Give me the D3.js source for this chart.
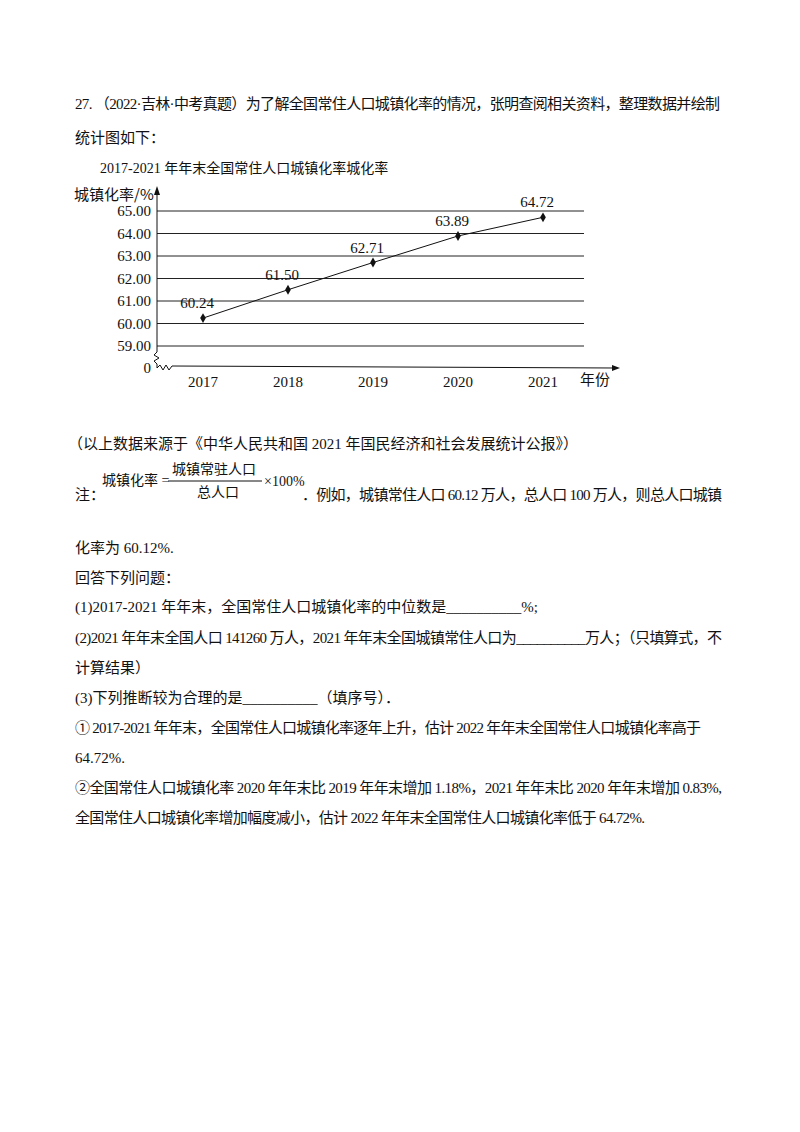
<!DOCTYPE html>
<html>
<head>
  <meta charset="utf-8">
  <script src="https://d3js.org/d3.v7.min.js"></script>
  <style>
    body { margin: 0; background: #fff; }
    svg text { font-family: "Liberation Serif", "Noto Sans CJK SC", serif; fill: #111; }
  </style>
</head>
<body>
  <script>
    var years = ["2017", "2018", "2019", "2020", "2021"];
    var rates = [60.24, 61.50, 62.71, 63.89, 64.72];
    var yTicks = [59, 60, 61, 62, 63, 64, 65];

    var svg = d3.select("body").append("svg")
      .attr("width", 800).attr("height", 1132);

    var x = d3.scalePoint().domain(years).range([203, 543]);
    var y = d3.scaleLinear().domain([59, 65]).range([346, 211]);
    var axisX = 157, baseY = 368, lineEnd = 584;

    // grid lines
    svg.selectAll(".grid").data(yTicks).enter().append("line")
      .attr("x1", axisX).attr("x2", lineEnd)
      .attr("y1", d => y(d)).attr("y2", d => y(d))
      .attr("stroke", "#222").attr("stroke-width", 1);

    svg.selectAll(".ytl").data(yTicks).enter().append("text")
      .attr("x", axisX - 6).attr("y", d => y(d) + 5)
      .attr("text-anchor", "end").attr("font-size", 15)
      .text(d => d.toFixed(2));
    svg.append("text").attr("x", axisX - 6).attr("y", baseY + 5)
      .attr("text-anchor", "end").attr("font-size", 15).text("0");

    // y axis with break
    svg.append("line").attr("x1", axisX).attr("x2", axisX).attr("y1", 193).attr("y2", 352).attr("stroke", "#111");
    svg.append("path").attr("d", `M${axisX},352 l-3,3 l5,3 l-5,3 l3,3 L${axisX},${baseY}`)
      .attr("fill", "none").attr("stroke", "#111");
    svg.append("path").attr("d", `M${axisX - 3},195 L${axisX},186 L${axisX + 3},195 Z`).attr("fill", "#111");
    // x axis with break
    svg.append("path").attr("d", `M${axisX},${baseY} l3,-3 l3,5 l3,-5 l3,5 l3,-4 L615,${baseY}`)
      .attr("fill", "none").attr("stroke", "#111");
    svg.append("path").attr("d", `M612,${baseY - 3} L620,${baseY} L612,${baseY + 3} Z`).attr("fill", "#111");

    svg.selectAll(".xtl").data(years).enter().append("text")
      .attr("x", d => x(d)).attr("y", baseY + 19)
      .attr("text-anchor", "middle").attr("font-size", 15).text(d => d);
    svg.append("text").attr("x", 580).attr("y", baseY + 17).attr("font-size", 15)
      .style("font-family", "Noto Sans CJK SC").text("年份");
    svg.append("text").attr("x", 74).attr("y", 200).attr("font-size", 15)
      .style("font-family", "Noto Sans CJK SC").text("城镇化率/%");
    svg.append("text").attr("x", 100).attr("y", 173).attr("font-size", 14)
      .text("2017-2021 年年末全国常住人口城镇化率城化率");

    // line + points
    var pts = years.map((d, i) => [x(d), y(rates[i])]);
    svg.append("path").attr("d", d3.line()(pts)).attr("fill", "none").attr("stroke", "#111");
    svg.selectAll(".pt").data(pts).enter().append("path")
      .attr("d", d3.symbol().type(d3.symbolDiamond).size(28))
      .attr("transform", d => "translate(" + d[0] + "," + d[1] + ")").attr("fill", "#111");
    svg.selectAll(".lbl").data(pts).enter().append("text")
      .attr("x", d => d[0] - 6).attr("y", d => d[1] - 10)
      .attr("text-anchor", "middle").attr("font-size", 15)
      .text((d, i) => rates[i].toFixed(2));

    // surrounding text: [x, y, text, stretched width or 0]
    var lines = [
      [75, 109, "27. （2022·吉林·中考真题）为了解全国常住人口城镇化率的情况，张明查阅相关资料，整理数据并绘制", 645],
      [75, 143, "统计图如下：", 0],
      [68, 449, "（以上数据来源于《中华人民共和国 2021 年国民经济和社会发展统计公报》）", 0],
      [75, 500, "注：", 0],
      [302, 500, "．例如，城镇常住人口 60.12 万人，总人口 100 万人，则总人口城镇", 420],
      [75, 553, "化率为 60.12%.", 0],
      [75, 583, "回答下列问题：", 0],
      [75, 612, "(1)2017-2021 年年末，全国常住人口城镇化率的中位数是__________%;", 0],
      [75, 643, "(2)2021 年年末全国人口 141260 万人，2021 年年末全国城镇常住人口为__________万人；（只填算式，不", 647],
      [75, 673, "计算结果）", 0],
      [75, 703, "(3)下列推断较为合理的是__________（填序号）．", 0],
      [75, 733, "① 2017-2021 年年末，全国常住人口城镇化率逐年上升，估计 2022 年年末全国常住人口城镇化率高于", 626],
      [75, 763, "64.72%.", 0],
      [75, 793, "②全国常住人口城镇化率 2020 年年末比 2019 年年末增加 1.18%，2021 年年末比 2020 年年末增加 0.83%,", 647],
      [75, 823, "全国常住人口城镇化率增加幅度减小，估计 2022 年年末全国常住人口城镇化率低于 64.72%.", 570]
    ];
    svg.selectAll(".tx").data(lines).enter().append("text")
      .attr("x", d => d[0]).attr("y", d => d[1]).attr("font-size", 15)
      .attr("textLength", d => d[3] || null)
      .text(d => d[2]);

    // formula
    svg.append("text").attr("x", 102).attr("y", 485).attr("font-size", 14).text("城镇化率 =");
    svg.append("text").attr("x", 172).attr("y", 474).attr("font-size", 14).text("城镇常驻人口");
    svg.append("line").attr("x1", 168).attr("x2", 262).attr("y1", 481).attr("y2", 481).attr("stroke", "#111");
    svg.append("text").attr("x", 197).attr("y", 497).attr("font-size", 14).text("总人口");
    svg.append("text").attr("x", 264).attr("y", 486).attr("font-size", 14).text("×100%");
  </script>
</body>
</html>
